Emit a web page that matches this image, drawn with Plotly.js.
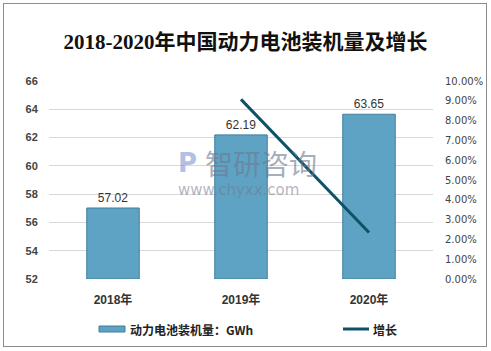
<!DOCTYPE html>
<html><head><meta charset="utf-8">
<script src="https://cdn.plot.ly/plotly-3.0.1.min.js"></script>
<style>
html,body{margin:0;padding:0;background:#fff;}
#chart{width:491px;height:351px;position:relative;}
#frame{position:absolute;left:3px;top:3px;width:482px;height:342px;border:1px solid #8c8c8c;pointer-events:none;}
</style></head>
<body>
<div id="chart"></div><div id="frame"></div>
<script>
const years = ['2018年', '2019年', '2020年'];
const capacity = [57.02, 62.19, 63.65];
const growthYears = ['2019年', '2020年'];
const growth = [9.07, 2.35];
const leftTicks = [52, 54, 56, 58, 60, 62, 64, 66];
const rightTicks = [0, 1, 2, 3, 4, 5, 6, 7, 8, 9, 10];
const seriesNames = ['动力电池装机量：GWh', '增长'];

const barColor = '#5fa3c4', barEdge = '#3f7d9b', lineColor = '#0f5268';

const bars = {
  type: 'bar', x: years, y: capacity.map(v => v - 52), base: 52,
  name: seriesNames[0], showlegend: false,
  width: 0.41,
  marker: {color: barColor, line: {color: barEdge, width: 1}},
  text: capacity.map(v => v.toFixed(2)), textposition: 'outside',
  textfont: {family: 'Liberation Sans, Arial', size: 12, color: '#333'},
  cliponaxis: false,
  hoverinfo: 'none'
};
const line = {
  type: 'scatter', mode: 'lines', x: growthYears, y: growth, yaxis: 'y2',
  name: seriesNames[1], showlegend: false, line: {color: lineColor, width: 3}, hoverinfo: 'none'
};

// legend built from shapes + annotations (pixel positions converted to paper coords)
const L = 49, W = 384, T = 81, H = 198;
const px = x => (x - L) / W;
const py = y => 1 - (y - T) / H;

const layout = {
  width: 491, height: 351,
  margin: {l: 49, r: 58, t: 81, b: 72},
  paper_bgcolor: '#fff', plot_bgcolor: '#fff',
  title: {text: '2018-2020年中国动力电池装机量及增长', x: 0.5, xanchor: 'center', y: 0.88, yanchor: 'middle', yref: 'container',
    font: {family: 'Liberation Serif, Noto Sans CJK SC', size: 21, color: '#111', weight: 600}},
  showlegend: false,
  xaxis: {type: 'category', range: [-0.5, 2.5], showline: false, ticks: 'outside', ticklen: 10, tickcolor: 'rgba(0,0,0,0)', showgrid: false,
    tickfont: {family: 'Liberation Sans, Noto Sans CJK SC', size: 12, color: '#333', weight: 'bold'}, fixedrange: true},
  yaxis: {range: [52, 66], tickvals: leftTicks, ticktext: leftTicks.map(String), showgrid: true, gridcolor: '#d9d9d9', gridwidth: 1,
    zeroline: false, showline: false, ticks: 'outside', ticklen: 8, tickcolor: 'rgba(0,0,0,0)',
    tickfont: {family: 'Liberation Sans, Arial', size: 11, color: '#444', weight: 'bold'}},
  yaxis2: {overlaying: 'y', side: 'right', range: [0, 10], tickvals: rightTicks, ticktext: rightTicks.map(v => v.toFixed(2) + '%'),
    showgrid: false, zeroline: false, showline: false, ticks: 'outside', ticklen: 9, tickcolor: 'rgba(0,0,0,0)',
    tickfont: {family: 'DejaVu Sans, Liberation Sans', size: 10, color: '#444'}},
  shapes: [
    {type: 'rect', xref: 'paper', yref: 'paper', x0: px(99), x1: px(125), y0: py(326), y1: py(332),
      fillcolor: barColor, line: {color: barEdge, width: 1}},
    {type: 'line', xref: 'paper', yref: 'paper', x0: px(343), x1: px(369), y0: py(329), y1: py(329),
      line: {color: lineColor, width: 3}}
  ],
  annotations: [
    {xref: 'paper', yref: 'paper', x: px(128), y: py(329), xanchor: 'left', yanchor: 'middle', text: '<b>' + seriesNames[0] + '</b>', showarrow: false,
      font: {family: 'Noto Sans CJK SC', size: 12, color: '#222'}},
    {xref: 'paper', yref: 'paper', x: px(371), y: py(329), xanchor: 'left', yanchor: 'middle', text: '<b>' + seriesNames[1] + '</b>', showarrow: false,
      font: {family: 'Noto Sans CJK SC', size: 12, color: '#222'}},
    {xref: 'paper', yref: 'paper', x: px(203), y: py(163), xanchor: 'left', yanchor: 'middle', text: '智研咨询', showarrow: false,
      font: {family: 'Noto Sans CJK SC', size: 28, color: 'rgba(110,120,140,0.6)'}},
    {xref: 'paper', yref: 'paper', x: px(176), y: py(190), xanchor: 'left', yanchor: 'middle', text: 'www.chyxx.com', showarrow: false,
      font: {family: 'DejaVu Sans', size: 15, color: 'rgba(110,120,140,0.55)'}},
    {xref: 'paper', yref: 'paper', x: px(176), y: py(163), xanchor: 'left', yanchor: 'middle', text: '<b>P</b>', showarrow: false,
      font: {family: 'DejaVu Sans', size: 26, color: 'rgba(100,130,200,0.5)'}}
  ]
};
Plotly.newPlot('chart', [bars, line], layout, {displayModeBar: false, staticPlot: true});
</script>
</body></html>
